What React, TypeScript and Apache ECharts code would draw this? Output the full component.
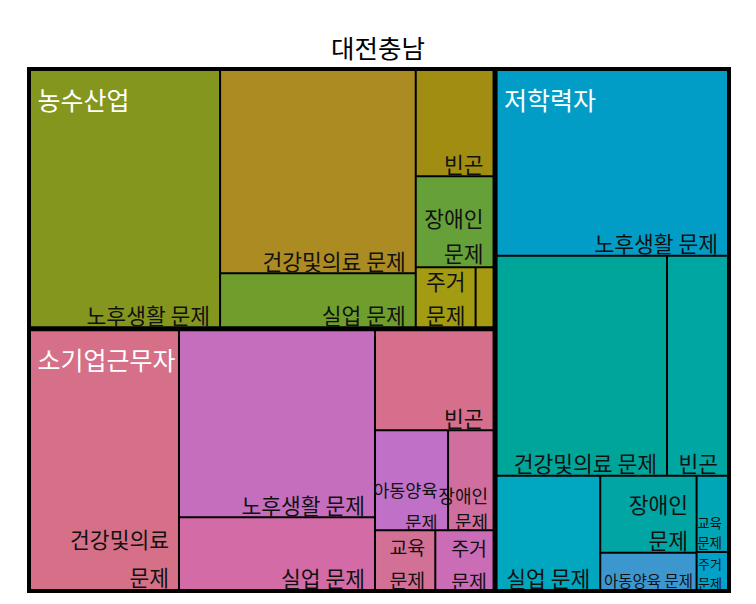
import React, { useEffect, useRef } from 'react';
import * as echarts from 'echarts';

const FONT = "'Noto Sans CJK KR', 'Noto Sans', sans-serif";

const chartTitle = '대전충남';
const groupNames = ['농수산업', '소기업근무자', '저학력자'];

// 농수산업 (values in %)
const farmNames = ['노후생활 문제', '건강및의료 문제', '실업 문제', '빈곤', '장애인 문제', '주거 문제', '교육 문제'];
const farmValues = [40.8, 33.2, 8.8, 6.9, 5.9, 3.0, 0.9];
const farmBlocks = [[0], [1, 2], [3], [4], [5], [6]];

// 소기업근무자
const smallNames = ['건강및의료 문제', '노후생활 문제', '실업 문제', '빈곤', '아동양육 문제', '장애인 문제', '교육 문제', '주거 문제'];
const smallValues = [32.3, 30.6, 11.9, 9.9, 6.1, 3.8, 3.0, 2.9];
const smallBlocks = [[0], [1, 2], [3], [4, 5], [6], [7]];

// 저학력자
const lowEduNames = ['노후생활 문제', '건강및의료 문제', '빈곤', '실업 문제', '장애인 문제', '아동양육 문제', '교육 문제', '주거 문제'];
const lowEduValues = [35.9, 31.3, 11.2, 9.9, 6.2, 3.0, 2.0, 1.0];
const lowEduBlocks = [[0], [1, 2], [3], [4, 5], [6], [7]];

// colours
const farmColors = ['#84961E', '#AB8B22', '#6F9E2C', '#A08D12', '#66A039', '#A39C12', '#A89A10'];
const smallColors = ['#D57088', '#C66EBE', '#D26BA6', '#D66F8C', '#C070C6', '#D16EA0', '#D37096', '#CB6CB6'];
const lowEduColors = ['#019DC7', '#00A59A', '#00A6A2', '#00A7BF', '#00A5A4', '#3D97CF', '#00A6B6', '#01A1C9'];

type LabelTweak = { fontSize?: number; lineHeight?: number; wrap?: boolean; hide?: boolean; padding?: number[] };
const labelTweaks: Record<string, LabelTweak> = {
  '농수산업|장애인 문제': { wrap: true, lineHeight: 17.5, padding: [0, 9, 5, 0] },
  '농수산업|주거 문제': { wrap: true, lineHeight: 17 },
  '농수산업|교육 문제': { hide: true },
  '소기업근무자|건강및의료 문제': { wrap: true, lineHeight: 19 },
  '소기업근무자|아동양육 문제': { wrap: true, fontSize: 17.5, lineHeight: 16, padding: [0, 9.5, 0, 0] },
  '소기업근무자|장애인 문제': { wrap: true, fontSize: 18, lineHeight: 13, padding: [0, 4.5, 2, 0] },
  '소기업근무자|교육 문제': { wrap: true, fontSize: 19.5, lineHeight: 16.5, padding: [0, 9, 1.5, 0] },
  '소기업근무자|주거 문제': { wrap: true, fontSize: 19.5, lineHeight: 16.5, padding: [0, 5.5, 0.5, 0] },
  '저학력자|장애인 문제': { wrap: true, padding: [0, 7.5, 3, 0] },
  '저학력자|아동양육 문제': { fontSize: 15.5, lineHeight: 15, padding: [0, 2.5, 1.5, 0] },
  '저학력자|교육 문제': { wrap: true, fontSize: 13.5, lineHeight: 10, padding: [0, 5, 3.5, 0] },
  '저학력자|주거 문제': { wrap: true, fontSize: 13, lineHeight: 9.5, padding: [0, 5, 2, 0] },
};

function buildGroup(gi: number, names: string[], values: number[], blocks: number[][], colors: string[]) {
  const group = groupNames[gi];
  const leaf = (i: number) => {
    const t = labelTweaks[group + '|' + names[i]] || {};
    return {
      name: names[i],
      value: values[i],
      itemStyle: { color: colors[i] },
      label: {
        show: !t.hide,
        fontSize: t.fontSize ?? 21.5,
        lineHeight: t.lineHeight ?? 18,
        padding: t.padding ?? [0, 9, 3, 0],
        formatter: t.wrap ? names[i].replace(' ', '\n\n') : names[i],
      },
    };
  };
  return {
    name: group,
    children: blocks.map((b) =>
      b.length === 1
        ? leaf(b[0])
        : { name: '', itemStyle: { borderWidth: 0 }, children: b.map(leaf) }
    ),
  };
}

const sum = (a: number[]) => a.reduce((s, v) => s + v, 0);

export default function App() {
  const ref = useRef<HTMLDivElement>(null);
  useEffect(() => {
    if (!ref.current) return;
    const chart = echarts.init(ref.current, null, { renderer: 'svg' });
    const common = {
      type: 'treemap',
      left: 27,
      top: 67,
      width: 704,
      height: 526,
      squareRatio: 1,
      sort: false,
      roam: false,
      nodeClick: false,
      breadcrumb: { show: false },
    };
    const data = [
      buildGroup(0, farmNames, farmValues, farmBlocks, farmColors),
      buildGroup(1, smallNames, smallValues, smallBlocks, smallColors),
      buildGroup(2, lowEduNames, lowEduValues, lowEduBlocks, lowEduColors),
    ];
    const groupTotals = [sum(farmValues), sum(smallValues), sum(lowEduValues)];
    chart.setOption({
      animation: false,
      backgroundColor: '#ffffff',
      title: {
        text: chartTitle,
        left: 'center',
        top: 29,
        textStyle: { fontSize: 25.5, fontWeight: 'normal', color: '#000', fontFamily: FONT },
      },
      series: [
        {
          ...common,
          z: 2,
          itemStyle: { borderColor: '#000' },
          upperLabel: { show: false },
          label: {
            show: true,
            position: 'insideBottomRight',
            distance: 0,
            color: '#111',
            fontFamily: FONT,
            fontSize: 21.5,
            lineHeight: 18,
            overflow: 'none',
          },
          levels: [
            { itemStyle: { borderWidth: 1.5, borderColor: '#000', gapWidth: 0 } },
            { itemStyle: { borderWidth: 1.5, borderColor: '#000', gapWidth: 0 } },
            { itemStyle: { borderWidth: 1, borderColor: '#000', gapWidth: 0 } },
            { itemStyle: { borderWidth: 1, borderColor: '#000', gapWidth: 0 } },
          ],
          data,
        },
        {
          ...common,
          z: 5,
          silent: true,
          itemStyle: { color: 'rgba(0,0,0,0)', borderColor: 'rgba(0,0,0,0)', borderWidth: 0 },
          label: {
            show: true,
            position: 'insideTopLeft',
            distance: 0,
            color: '#fff',
            fontFamily: FONT,
            fontSize: 25,
            lineHeight: 25,
            padding: [17.5, 0, 0, 9],
          },
          levels: [
            { itemStyle: { borderWidth: 1.5, borderColor: 'rgba(0,0,0,0)', gapWidth: 0 } },
            { itemStyle: { borderWidth: 0, color: 'rgba(0,0,0,0)', borderColor: 'rgba(0,0,0,0)' } },
          ],
          data: groupNames.map((g, i) => ({ name: g, value: groupTotals[i] })),
        },
      ],
    });
    return () => chart.dispose();
  }, []);
  return (
    <div
      ref={ref}
      style={{ position: 'absolute', left: 0, top: 0, width: 756, height: 604, background: '#fff' }}
    />
  );
}
